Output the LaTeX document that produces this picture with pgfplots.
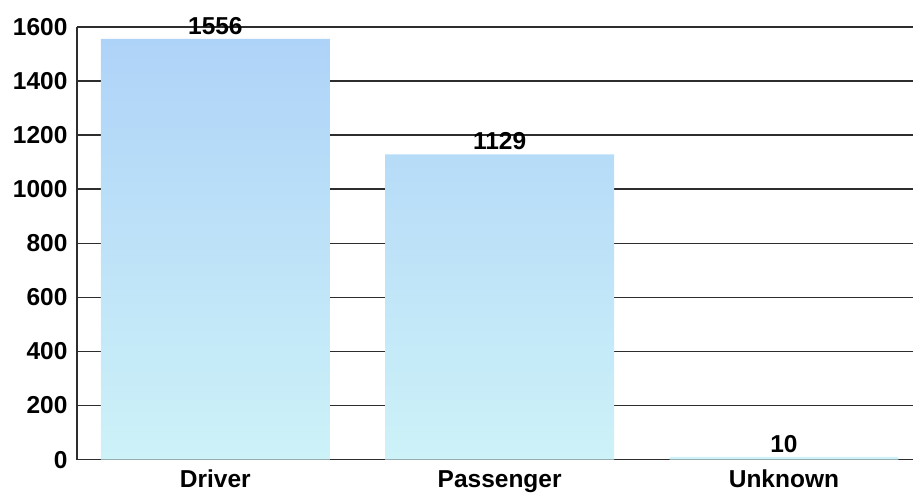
\documentclass[border=0pt]{standalone}
\usepackage{fontspec}
\setmainfont{Liberation Sans}
\usepackage{pgfplots}
\pgfplotsset{compat=1.18}
\definecolor{bartop}{RGB}{174,211,248}
\definecolor{barbot}{RGB}{205,242,248}
\definecolor{gridc}{RGB}{45,45,45}
\begin{document}
\begin{tikzpicture}
\begin{axis}[
    at={(0,0)}, anchor=south west,
    scale only axis,
    width=837pt, height=433pt,
    ybar, bar width=229pt,
    ymin=0, ymax=1600,
    xmin=-0.487, xmax=2.455,
    ytick={0,200,...,1600},
    xtick=data,
    xticklabels={Driver,Passenger,Unknown},
    axis x line=bottom, axis y line=left,
    axis line style={-, gridc, line width=1.5pt},
    ymajorgrids,
    major grid style={gridc, line width=1.5pt},
    major tick length=0pt,
    tick style={draw=none},
    font=\fontsize{24.5}{28}\selectfont\bfseries,
    /pgf/number format/assume math mode=true,
    /pgf/number format/1000 sep={},
    yticklabel style={xshift=-6pt},
    xticklabel style={anchor=base, yshift=-28pt},
    nodes near coords,
    nodes near coords style={font=\fontsize{24.5}{28}\selectfont\bfseries, text=black, yshift=1pt},
]
\addplot[draw=none, top color=bartop, bottom color=barbot] coordinates {(0,1556) (1,1129) (2,10)};
\end{axis}
\path[use as bounding box] (-77pt,-38pt) rectangle (837pt,460pt);
\end{tikzpicture}
\end{document}
